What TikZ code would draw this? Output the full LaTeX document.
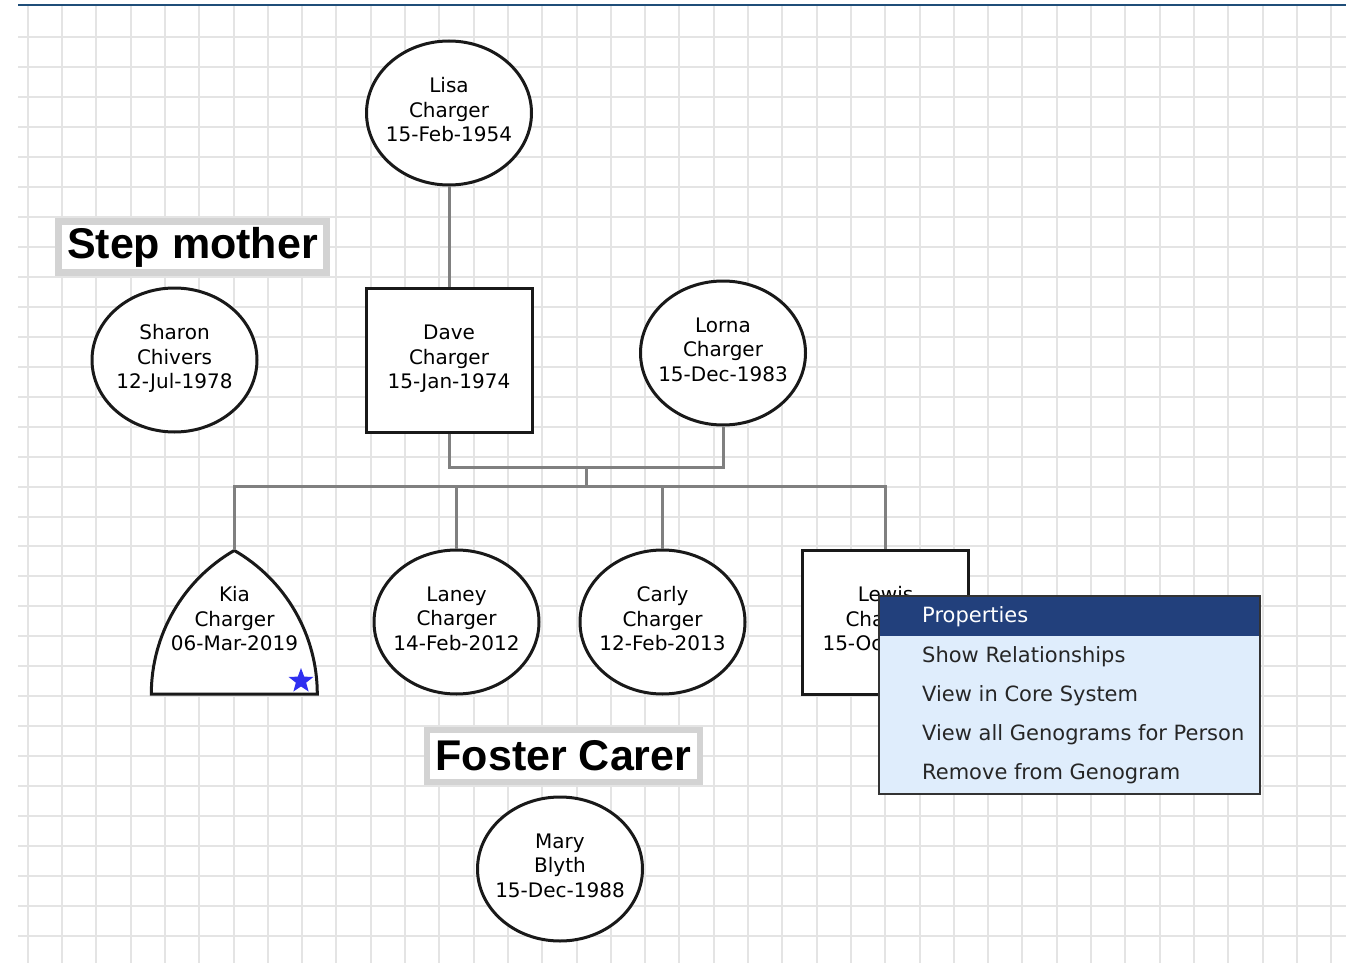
\documentclass[tikz,border=0pt]{standalone}
\usepackage{fontspec}
\setmainfont{DejaVu Sans}
\newfontfamily\labelfont{Liberation Sans}
\usepackage{tikz}
\usetikzlibrary{shapes.geometric}

\definecolor{gridgray}{HTML}{E4E4E4}
\definecolor{linkgray}{HTML}{808080}
\definecolor{topblue}{HTML}{1F4E79}
\definecolor{menunavy}{HTML}{22407C}
\definecolor{menublue}{HTML}{DFEDFC}
\definecolor{menuedge}{HTML}{333333}
\definecolor{tagbox}{HTML}{D3D3D3}
\definecolor{starblue}{HTML}{2F2FF0}

\tikzset{
  gridline/.style={gridgray, line width=2pt},
  female/.style={ellipse, draw=black!90, line width=3pt, fill=white, inner sep=-20pt,
    minimum width=165pt, minimum height=144pt, align=center, text depth=7pt,
    font=\fontsize{20}{24.5}\selectfont},
  male/.style={rectangle, draw=black!90, line width=3pt, fill=white, inner sep=0pt,
    minimum width=166pt, minimum height=144pt, align=center, text depth=7pt,
    font=\fontsize{20}{24.5}\selectfont},
  archbox/.style={inner sep=0pt, minimum width=166pt, minimum height=144pt},
  archline/.style={draw=black!90, line width=3pt, fill=white},
  link/.style={linkgray, line width=3pt},
  tag/.style={draw=tagbox, line width=6.5pt, fill=white, inner sep=0pt,
    font=\labelfont\bfseries\fontsize{43}{43}\selectfont},
  menuitem/.style={anchor=west, inner sep=0pt, text=black!85,
    font=\fontsize{21}{24}\selectfont}
}

\begin{document}
\begin{tikzpicture}[x=1pt, y=-1pt]
    \useasboundingbox (0,0) rectangle (1358,963);

    % Grid
    \foreach \k in {0,...,38}
        \draw[gridline] ({27.7+34.3*\k},6) -- ({27.7+34.3*\k},963);
    \foreach \k in {0,...,30}
        \draw[gridline] (18,{37.3+29.95*\k}) -- (1346,{37.3+29.95*\k});
    \draw[topblue, line width=2pt] (18,5.5) -- (1346,5.5);

    % Labels
    \node[tag, minimum width=268pt, minimum height=51pt] (stepmother) at (192.5,247) {Step mother};
    \node[tag, minimum width=273pt, minimum height=52pt] (fostercarer) at (563.5,756) {Foster Carer};

    % People
    \node[female] (lisa) at (449,113) {Lisa\\Charger\\15-Feb-1954};
    \node[female] (sharon) at (174.5,360) {Sharon\\Chivers\\12-Jul-1978};
    \node[male] (dave) at (449,360.5) {Dave\\Charger\\15-Jan-1974};
    \node[female] (lorna) at (723,353) {Lorna\\Charger\\15-Dec-1983};
    \node[archbox] (kia) at (234.5,622) {};
    \draw[archline] (kia.south west) arc[start angle=180, end angle=120, radius=166pt]
        arc[start angle=60, end angle=0, radius=166pt] -- cycle;
    \node[align=center, text depth=7pt, font=\fontsize{20}{24.5}\selectfont] (kianame) at (kia) {Kia\\Charger\\06-Mar-2019};
    \node[star, star points=5, star point ratio=2.4, fill=starblue, inner sep=0pt, minimum size=26pt] (kiastar) at (301,681) {};
    \node[female] (laney) at (456.5,622) {Laney\\Charger\\14-Feb-2012};
    \node[female] (carly) at (662.5,622) {Carly\\Charger\\12-Feb-2013};
    \node[male] (lewis) at (885.5,622) {Lewis\\Charger\\15-Oc\phantom{t-2000}};
    \node[female] (mary) at (560,869) {Mary\\Blyth\\15-Dec-1988};

    % Family lines
    \coordinate (union) at (586,467);
    \coordinate (kids) at (586,486);
    \draw[link] (lisa.south) -- (dave.north);
    \draw[link] (dave.south) |- (union) -| (lorna.south);
    \draw[link] (union) -- (kids);
    \foreach \child in {kia,laney,carly,lewis}
        \draw[link] (kids) -| (\child.north);

    % Context menu
    \node[fill=menublue, inner sep=0pt, minimum width=381pt, minimum height=198pt, anchor=north west] (menu) at (878.5,595.5) {};
    \node[fill=menunavy, inner sep=0pt, minimum width=381pt, minimum height=40.5pt, anchor=north west] (menuhead) at (menu.north west) {};
    \draw[menuedge, line width=2pt] (menu.north west) rectangle (menu.south east);
    \node[menuitem, text=white] (props) at (922,617) {Properties};
    \foreach \txt [count=\i] in {Show Relationships, View in Core System, View all Genograms for Person, Remove from Genogram}
        \node[menuitem] (item\i) at (922,{617+39.3*\i}) {\txt};
\end{tikzpicture}
\end{document}
